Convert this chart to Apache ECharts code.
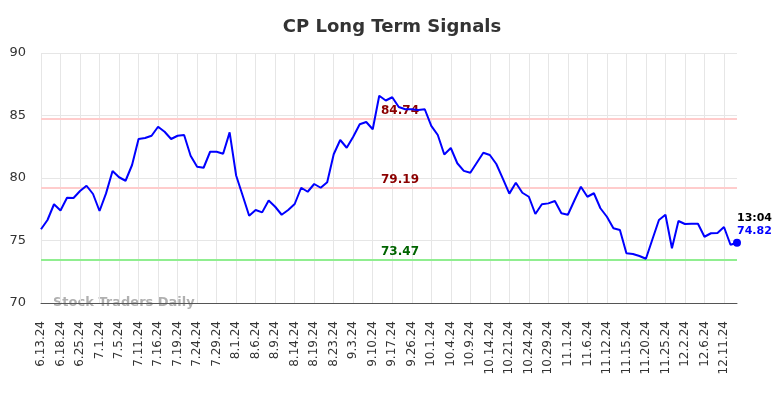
<!DOCTYPE html>
<html>
<head>
<meta charset="utf-8">
<script src="https://cdn.jsdelivr.net/npm/echarts@6/dist/echarts.min.js"></script>
<style>html,body{margin:0;padding:0;background:#fff;}#c{width:784px;height:398px;}</style>
</head>
<body>
<div id="c"></div>
<script>
var dates = ["6.13.24","6.14.24","6.17.24","6.18.24","6.20.24","6.21.24","6.25.24","6.26.24","6.27.24","7.1.24",
"7.2.24","7.3.24","7.5.24","7.8.24","7.9.24","7.11.24","7.12.24","7.15.24","7.16.24","7.17.24",
"7.18.24","7.19.24","7.22.24","7.23.24","7.24.24","7.25.24","7.26.24","7.29.24","7.30.24","7.31.24",
"8.1.24","8.2.24","8.5.24","8.6.24","8.7.24","8.8.24","8.9.24","8.12.24","8.13.24","8.14.24",
"8.15.24","8.16.24","8.19.24","8.20.24","8.22.24","8.23.24","8.27.24","8.29.24","9.3.24","9.5.24",
"9.6.24","9.10.24","9.12.24","9.13.24","9.17.24","9.20.24","9.24.24","9.26.24","9.27.24","9.30.24",
"10.1.24","10.2.24","10.3.24","10.4.24","10.7.24","10.8.24","10.9.24","10.10.24","10.11.24","10.14.24",
"10.16.24","10.18.24","10.21.24","10.22.24","10.23.24","10.24.24","10.25.24","10.28.24","10.29.24","10.30.24",
"10.31.24","11.1.24","11.4.24","11.5.24","11.6.24","11.7.24","11.8.24","11.12.24","11.13.24","11.14.24",
"11.15.24","11.18.24","11.19.24","11.20.24","11.21.24","11.22.24","11.25.24","11.26.24","11.27.24","12.2.24",
"12.3.24","12.4.24","12.6.24","12.9.24","12.10.24","12.11.24","12.12.24","12.13.24"];

var prices = [75.9,76.64,77.9,77.4,78.42,78.4,78.96,79.38,78.72,77.36,
78.77,80.56,80.06,79.78,81.04,83.12,83.2,83.38,84.1,83.7,
83.12,83.38,83.44,81.78,80.9,80.82,82.1,82.1,81.94,83.65,
80.2,78.6,76.98,77.44,77.25,78.2,77.7,77.06,77.44,77.92,
79.22,78.9,79.52,79.22,79.66,81.9,83.04,82.42,83.3,84.3,
84.48,83.9,86.58,86.2,86.46,85.68,85.5,85.5,85.44,85.5,
84.17,83.44,81.88,82.4,81.18,80.57,80.42,81.22,82.02,81.84,
81.12,79.95,78.75,79.62,78.82,78.5,77.12,77.9,77.97,78.16,
77.18,77.06,78.2,79.3,78.5,78.78,77.58,76.9,75.98,75.84,
73.98,73.92,73.76,73.54,75.1,76.64,77.06,74.38,76.56,76.32,
76.34,76.34,75.3,75.58,75.6,76.08,74.66,74.82];

var resistanceLevels = [84.74, 79.19];
var supportLevels = [73.47];
var lastTime = "13:04";
var yTicks = [70, 75, 80, 85, 90];

var FONT = "DejaVu Sans";
var lastIdx = prices.length - 1;
var lastVal = prices[lastIdx];

var markData = [];
resistanceLevels.forEach(function (lv) {
  markData.push({
    yAxis: lv,
    lineStyle: {color: '#ffcccc', width: 2, type: 'solid'},
    label: {color: '#8b0000'}
  });
});
supportLevels.forEach(function (lv) {
  markData.push({
    yAxis: lv,
    lineStyle: {color: '#90ee90', width: 2, type: 'solid'},
    label: {color: '#006400'}
  });
});

var chart = echarts.init(document.getElementById('c'), null, {renderer: 'canvas'});
chart.setOption({
  animation: false,
  backgroundColor: '#ffffff',
  title: {
    text: 'CP Long Term Signals',
    left: 'center',
    top: 13,
    textStyle: {fontFamily: FONT, fontSize: 18, fontWeight: 'bold', color: '#333'}
  },
  grid: {left: 41, right: 47, top: 53, bottom: 95, containLabel: false},
  xAxis: {
    type: 'category',
    data: dates,
    boundaryGap: false,
    axisLine: {show: true, lineStyle: {color: '#555', width: 1}},
    axisTick: {show: false},
    axisLabel: {
      interval: 2,
      rotate: 90,
      margin: 18,
      fontFamily: FONT,
      fontSize: 12,
      color: '#333'
    },
    splitLine: {show: true, interval: 2, lineStyle: {color: '#e6e6e6', width: 1}}
  },
  yAxis: {
    type: 'value',
    min: 70,
    max: 90,
    interval: 5,
    axisLine: {show: false},
    axisTick: {show: false},
    axisLabel: {
      margin: 15,
      fontFamily: FONT,
      fontSize: 13,
      color: '#333',
      formatter: function (v) { return yTicks.indexOf(v) >= 0 ? String(v) : ''; }
    },
    splitLine: {show: true, lineStyle: {color: '#e6e6e6', width: 1}}
  },
  graphic: [{
    type: 'text',
    left: 53,
    top: 296,
    z: 0,
    silent: true,
    style: {
      text: 'Stock Traders Daily',
      fontFamily: FONT,
      fontSize: 13,
      fontWeight: 'bold',
      fill: 'rgba(150,150,150,0.75)'
    }
  }],
  series: [{
    type: 'line',
    data: prices,
    symbol: 'none',
    lineStyle: {color: '#0000ff', width: 2},
    itemStyle: {color: '#0000ff'},
    z: 5,
    markLine: {
      silent: true,
      symbol: ['none', 'none'],
      z: 3,
      label: {
        show: true,
        position: 'insideMiddleTop',
        distance: 2,
        offset: [11, 0],
        fontFamily: FONT,
        fontSize: 12,
        fontWeight: 'bold',
        formatter: function (p) { return p.value.toFixed(2); }
      },
      data: markData
    }
  }, {
    type: 'scatter',
    data: [[lastIdx, lastVal]],
    symbol: 'circle',
    symbolSize: 8,
    itemStyle: {color: '#0000ff', opacity: 1},
    z: 6,
    label: {
      show: true,
      position: [4, -27],
      formatter: '{t|' + lastTime + '}\n{v|' + lastVal.toFixed(2) + '}',
      rich: {
        t: {fontFamily: FONT, fontWeight: 'bold', fontSize: 11, color: '#000000', lineHeight: 13},
        v: {fontFamily: FONT, fontWeight: 'bold', fontSize: 11, color: '#0000ff', lineHeight: 13}
      }
    }
  }]
});
</script>
</body>
</html>
